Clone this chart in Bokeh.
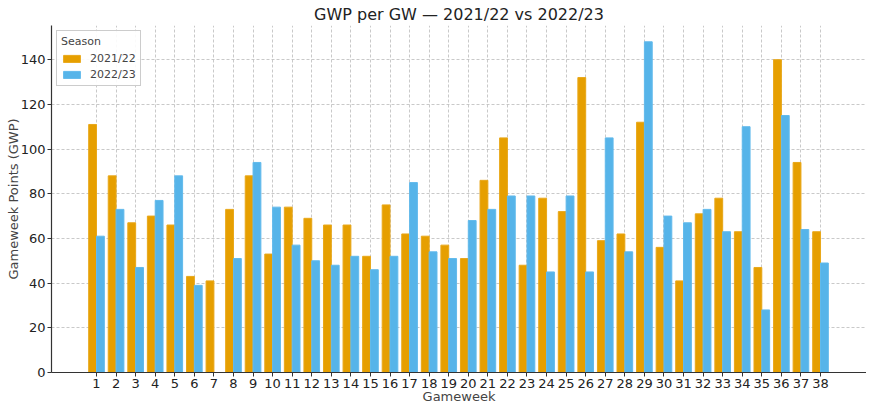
from bokeh.plotting import figure
from bokeh.models import Range1d, ColumnDataSource, Legend, LegendItem, FixedTicker
from bokeh.embed import file_html
from bokeh.resources import INLINE

gameweeks = list(range(1, 39))
season_2122 = [111, 88, 67, 70, 66, 43, 41, 73, 88, 53, 74, 69, 66, 66, 52, 75, 62, 61, 57, 51,
               86, 105, 48, 78, 72, 132, 59, 62, 112, 56, 41, 71, 78, 63, 47, 140, 94, 63]
season_2223 = [61, 73, 47, 77, 88, 39, 0, 51, 94, 74, 57, 50, 48, 52, 46, 52, 85, 54, 51, 68,
               73, 79, 79, 45, 79, 45, 105, 54, 148, 70, 67, 73, 63, 110, 28, 115, 64, 49]
y_ticks = [0, 20, 40, 60, 80, 100, 120, 140]

FONT = "DejaVu Sans"

src = ColumnDataSource(dict(
    gw=gameweeks,
    a=season_2122,
    b=season_2223,
    xa=[g - 0.2 for g in gameweeks],
    xb=[g + 0.2 for g in gameweeks],
))

p = figure(width=866, height=406, output_backend="svg", toolbar_location=None,
           x_range=Range1d(-1.3, 40.35), y_range=Range1d(0, 155.3),
           min_border_left=51, min_border_right=0, min_border_bottom=0, min_border_top=0)

p.title.text = "GWP per GW — 2021/22 vs 2022/23"
p.title.align = "center"
p.title.text_font = FONT
p.title.text_font_size = "16px"
p.title.text_font_style = "normal"
p.title.text_color = "#222222"
p.title.standoff = 4

ra = p.vbar(x="xa", top="a", width=0.4, source=src, fill_color="#E69F00", line_color="#E9A81A", line_width=1)
rb = p.vbar(x="xb", top="b", width=0.4, source=src, fill_color="#56B4E9", line_color="#62BAEC", line_width=1)

p.xaxis.ticker = FixedTicker(ticks=gameweeks)
p.yaxis.ticker = FixedTicker(ticks=y_ticks)
p.xaxis.axis_label = "Gameweek"
p.yaxis.axis_label = "Gameweek Points (GWP)"
for ax in (p.xaxis, p.yaxis):
    ax.axis_label_text_font = FONT
    ax.axis_label_text_font_size = "13px"
    ax.axis_label_text_font_style = "normal"
    ax.major_label_text_font = FONT
    ax.major_label_text_font_size = "13px"
    ax.major_label_text_color = "#222222"
    ax.axis_line_color = "#333333"
    ax.axis_line_width = 1.2
    ax.major_tick_line_color = "#333333"
    ax.major_tick_out = 4
    ax.major_tick_in = 0
    ax.minor_tick_line_color = None
    ax.major_label_standoff = 2
p.xaxis.axis_label_standoff = -2
p.yaxis.axis_label_standoff = -3

p.xgrid.grid_line_color = "#bbbbbb"
p.ygrid.grid_line_color = "#bbbbbb"
p.xgrid.grid_line_dash = "3 2"
p.ygrid.grid_line_dash = "3 2"
p.xgrid.grid_line_alpha = 0.8
p.ygrid.grid_line_alpha = 0.8
p.outline_line_color = None

legend = Legend(items=[LegendItem(label="2021/22", renderers=[ra]),
                       LegendItem(label="2022/23", renderers=[rb])],
                location="top_left", title="Season")
legend.title_text_font = FONT
legend.title_text_font_size = "11px"
legend.title_text_font_style = "normal"
legend.title_standoff = 4
legend.label_text_font = FONT
legend.label_text_font_size = "11px"
legend.border_line_color = "#cccccc"
legend.border_line_alpha = 1
legend.background_fill_alpha = 0.9
legend.glyph_height = 9
legend.glyph_width = 21
legend.label_height = 12
legend.spacing = 3
legend.padding = 4
legend.margin = 5
legend.label_standoff = 8
p.add_layout(legend)

open("out.html", "w").write(file_html(p, INLINE))
